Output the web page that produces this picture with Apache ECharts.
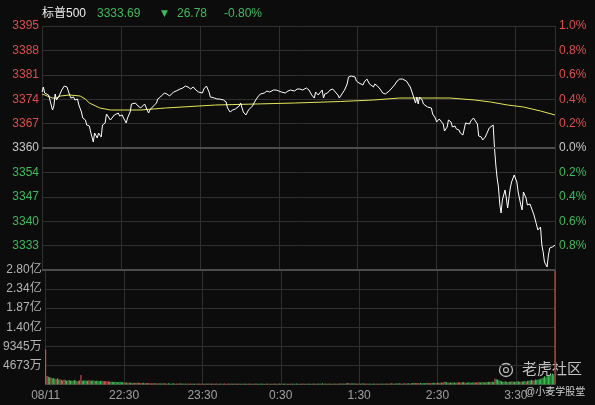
<!DOCTYPE html>
<html><head><meta charset="utf-8">
<script src="https://cdn.jsdelivr.net/npm/echarts@6/dist/echarts.min.js"></script>
<style>html,body{margin:0;padding:0;background:#0c0c0c;}#c{width:595px;height:405px;}</style>
</head><body><div id="c"></div>
<script>
// ---- data ----
const indexName = '标普500';
const lastPrice = '3333.69';
const changeArrow = '▼';
const changeAbs = '26.78';
const changePct = '-0.80%';
const prevClose = 3360.47;
const priceTickLabels = ['3395','3388','3381','3374','3367','3360','3354','3347','3340','3333'];
const pctTickLabels = ['1.0%','0.8%','0.6%','0.4%','0.2%','0.0%','0.2%','0.4%','0.6%','0.8%'];
const volTickLabels = ['','4673万','9345万','1.40亿','1.87亿','2.34亿','2.80亿'];
const timeTickLabels = ['08/11','22:30','23:30','0:30','1:30','2:30','3:30'];
const watermarkMain = '老虎社区';
const watermarkSub = '@小麦学股堂';
// [minutes after 21:30 open, price]
const pricePoints = [
[0,3375.89],[1,3377.27],[2,3375.62],[5,3375.07],[6,3374.52],[8,3370.94],[9,3372.04],[10,3375.34],[11,3373.69],[13,3374.79],
[15,3376.44],[17,3377.54],[18,3377.82],[19,3377.27],[21,3375.07],[22,3374.24],[24,3374.52],[25,3373.69],[27,3373.96],[28,3372.31],
[30,3370.38],[31,3368.73],[33,3368.18],[34,3366.80],[36,3366.53],[37,3364.88],[39,3362.12],[40,3364.60],[42,3363.22],[43,3364.60],
[45,3363.50],[46,3366.80],[48,3367.36],[49,3369.83],[50,3369.83],[52,3368.18],[53,3368.46],[55,3369.56],[58,3370.11],[59,3369.28],
[61,3369.56],[62,3368.73],[64,3367.36],[65,3368.73],[67,3370.38],[68,3372.59],[71,3372.86],[73,3372.04],[75,3371.49],[78,3372.59],
[79,3371.76],[81,3370.11],[82,3370.94],[84,3371.76],[87,3372.86],[88,3373.96],[90,3374.52],[93,3375.62],[95,3375.34],[97,3374.79],
[100,3375.89],[102,3376.17],[103,3375.89],[105,3376.72],[107,3376.99],[109,3377.54],[111,3377.27],[113,3376.72],[115,3377.27],[117,3376.44],
[119,3375.89],[122,3375.62],[123,3376.72],[125,3377.54],[127,3375.89],[128,3374.52],[131,3374.24],[133,3373.96],[135,3373.96],[138,3373.69],
[140,3373.14],[141,3371.49],[143,3370.38],[145,3370.94],[147,3371.21],[150,3372.04],[151,3372.86],[153,3370.38],[155,3369.56],[157,3370.94],
[160,3372.04],[162,3373.41],[164,3374.52],[166,3375.34],[169,3375.62],[171,3376.17],[173,3375.89],[176,3376.44],[178,3376.44],[180,3376.17],
[182,3375.89],[185,3375.62],[187,3376.17],[189,3376.44],[192,3376.17],[194,3376.72],[196,3376.72],[198,3376.44],[201,3376.99],[203,3376.44],
[205,3375.07],[207,3374.24],[208,3375.89],[210,3375.07],[211,3374.52],[213,3376.44],[214,3374.24],[215,3375.34],[217,3375.62],[219,3376.44],
[221,3376.72],[223,3375.89],[225,3375.07],[226,3374.24],[228,3375.34],[230,3376.44],[232,3378.10],[233,3380.02],[235,3380.30],[236,3380.30],
[238,3380.02],[239,3378.92],[241,3378.37],[242,3378.65],[244,3377.82],[245,3378.65],[247,3379.47],[249,3378.10],[250,3378.65],[252,3377.27],
[253,3378.10],[255,3377.54],[257,3376.72],[259,3375.62],[261,3375.34],[264,3376.17],[265,3376.72],[268,3377.82],[270,3378.92],[272,3379.47],
[274,3379.47],[277,3378.92],[278,3378.37],[280,3377.27],[282,3375.07],[284,3372.86],[285,3374.52],[286,3372.59],[287,3374.52],[289,3373.69],
[290,3372.59],[293,3371.76],[294,3372.31],[296,3371.49],[297,3369.83],[299,3368.73],[300,3367.63],[302,3368.46],[303,3369.01],[305,3367.08],
[306,3365.15],[308,3366.25],[309,3368.18],[311,3367.63],[312,3366.25],[314,3366.53],[315,3365.70],[317,3365.43],[318,3364.60],[320,3364.05],
[322,3367.36],[323,3367.63],[325,3367.08],[326,3367.91],[328,3368.73],[329,3369.01],[331,3367.08],[332,3363.77],[334,3363.50],[335,3362.67],
[337,3363.50],[338,3364.33],[340,3365.98],[341,3366.53],[343,3366.80],[344,3360.47],[345,3355.79],[346,3352.21],[347,3349.73],[348,3345.05],
[349,3342.57],[350,3346.15],[352,3348.90],[353,3346.70],[354,3343.95],[356,3349.45],[357,3351.11],[359,3353.03],[360,3353.58],[361,3351.11],
[362,3348.35],[364,3344.77],[365,3343.40],[366,3348.35],[368,3346.70],[369,3344.77],[371,3345.05],[372,3344.77],[374,3342.02],[375,3340.64],
[377,3337.89],[379,3338.71],[380,3333.76],[381,3331.83],[382,3329.07],[384,3327.70],[385,3331.00],[386,3332.93],[388,3333.21],[389,3333.76],
[390,3333.69]
];
const avgPoints = [
[0,3375.34],[2,3375.07],[8,3374.24],[11,3374.24],[14,3374.79],[21,3375.07],[29,3374.79],[33,3373.96],[36,3372.86],[44,3371.49],
[52,3370.94],[75,3370.94],[94,3371.49],[132,3372.31],[192,3372.86],[227,3373.28],[252,3373.69],[272,3374.24],[310,3374.24],[329,3373.69],
[341,3373.14],[354,3372.31],[366,3371.76],[379,3370.66],[390,3369.56]
];
// volume per minute, unit 万
const volume = [
8600,2100,1900,1800,1700,1500,1600,1400,1300,1500,
1200,1300,1100,1000,1200,1100,900,1000,1100,900,
1000,900,1100,950,800,900,1000,2300,900,1000,
1000,950,900,1050,1000,900,950,1000,850,900,
900,800,850,900,800,800,850,750,800,700,
650,700,600,650,600,550,600,650,550,600,
500,450,550,400,500,450,400,450,350,400,
400,350,400,300,350,400,300,350,300,350,
300,250,300,350,250,300,250,300,250,300,
250,300,250,200,300,250,200,250,300,200,
250,200,250,300,200,250,200,250,200,250,
200,250,200,250,200,200,250,200,250,200,
250,200,200,250,200,250,200,200,250,200,
200,250,200,200,250,200,200,250,200,200,
250,200,250,200,200,250,200,200,250,200,
200,200,250,200,200,200,250,200,200,200,
200,250,200,200,200,250,200,200,200,200,
250,200,200,200,200,250,200,200,200,250,
200,200,200,250,200,200,200,200,250,200,
200,200,250,200,200,200,200,250,200,200,
200,250,200,200,200,250,200,200,250,200,
250,200,300,200,250,200,200,250,200,200,
200,250,200,200,250,200,300,200,250,200,
300,350,300,250,300,250,300,250,200,250,
250,200,250,300,250,200,250,200,250,200,
200,250,200,250,200,200,250,200,250,200,
250,200,250,200,250,300,250,200,250,300,
250,300,250,200,250,300,250,250,300,250,
300,350,400,350,300,350,300,350,300,350,
300,350,400,350,300,400,350,450,400,350,
400,450,400,500,450,600,650,550,500,450,
500,450,550,500,450,500,550,500,450,600,
550,500,450,500,550,500,450,500,550,500,
500,550,600,500,550,600,500,550,600,650,
600,650,700,600,1400,1300,1200,1000,900,800,
700,650,800,700,600,650,700,800,650,700,
700,750,800,700,650,750,800,850,700,900,
900,1000,1100,950,1000,1200,1100,1300,1200,1400,
1500,1700,2000,1800,2200,2000,2400,2300,2700,2500,
28000
];
const volDir =
"rrggrgrgrg"+"grgrrggrgg"+"rggrgrgrgg"+"gggrgggrgg"+"gggrgrrrrg"+
"gggggrgggg"+"rrgrrgrgrr"+"grgrgrgrgr"+"rgrgrrgrgr"+"grgrgrggrg"+
"rgrgrgrrgr"+"grgrgrgrgr"+"rgrgrgrgrr"+"grgrgrgrgr"+"rgrgrgrgrg"+
"grgrgrgrgr"+"rgrgrggrgr"+"grgrgrgrgr"+"rgrgrgrgrg"+"grgrgrgrgr"+
"rgrgrgrgrg"+"grgrrgrgrg"+"rgrgrgrgrg"+"grrgrgrgrg"+"rgrgrgrgrg"+
"grgrgrgrgr"+"rgrgrgrgrg"+"grgrgrgrgr"+"rgrgrgrgrg"+"grgrgrgrgr"+
"rgrgrgrgrg"+"ggrgrgrgrg"+"grgrggrgrg"+"rgrggrgrgg"+"grggrggggg"+
"ggrgrggrgg"+"rgggrgggrg"+"gggrgggggg"+"gggggggggg"+"r";

// ---- chart ----
const RED = '#dc4f4f', GREEN = '#3fba5c', GREY = '#c8c8c8';
const FONT = "'Liberation Sans','Noto Sans CJK SC',sans-serif";
const toPct = p => (p / prevClose - 1) * 100;
const pctIndex = v => Math.round((1 - v) / 0.2);

const chart = echarts.init(document.getElementById('c'), null, {renderer: 'canvas'});
const gridLine = '#303030';
chart.setOption({
  backgroundColor: '#0c0c0c',
  animation: false,
  grid: [
    {left: 42, right: 40, top: 26, height: 244},
    {left: 42, right: 40, top: 270, height: 114.5}
  ],
  xAxis: [
    {type: 'value', gridIndex: 0, min: 0, max: 390, interval: 60,
     axisLine: {show: false}, axisTick: {show: false}, axisLabel: {show: false},
     splitLine: {show: true, lineStyle: {color: gridLine, width: 1}}},
    {type: 'value', gridIndex: 1, min: 0, max: 390, interval: 60,
     axisLine: {show: false}, axisTick: {show: false},
     axisLabel: {show: true, color: '#a0a0a0', fontSize: 12, fontFamily: FONT, margin: 5,
       formatter: v => { const i = v / 60; return (Number.isInteger(i) && i < timeTickLabels.length) ? timeTickLabels[i] : ''; }},
     splitLine: {show: true, lineStyle: {color: gridLine, width: 1}}}
  ],
  yAxis: [
    {type: 'value', gridIndex: 0, position: 'left', min: -1, max: 1, interval: 0.2,
     axisLine: {show: false}, axisTick: {show: false},
     axisLabel: {fontSize: 12, fontFamily: FONT, margin: 3,
       formatter: v => priceTickLabels[pctIndex(v)] || '',
       color: v => { const i = pctIndex(v); return i < 5 ? RED : (i === 5 ? GREY : GREEN); }},
     splitLine: {show: true, lineStyle: {color: gridLine, width: 1}}},
    {type: 'value', gridIndex: 0, position: 'right', min: -1, max: 1, interval: 0.2,
     axisLine: {show: false}, axisTick: {show: false},
     axisLabel: {fontSize: 12, fontFamily: FONT, margin: 4,
       formatter: v => pctTickLabels[pctIndex(v)] || '',
       color: v => { const i = pctIndex(v); return i < 5 ? RED : (i === 5 ? GREY : GREEN); }},
     splitLine: {show: false}},
    {type: 'value', gridIndex: 1, position: 'left', min: 0, max: 28038, interval: 4673,
     axisLine: {show: false}, axisTick: {show: false},
     axisLabel: {fontSize: 12, fontFamily: FONT, margin: 4, color: '#b4b4b4',
       formatter: v => volTickLabels[Math.round(v / 4673)] || ''},
     splitLine: {show: true, lineStyle: {color: gridLine, width: 1}}}
  ],
  series: [
    {type: 'line', xAxisIndex: 0, yAxisIndex: 0, showSymbol: false, z: 1,
     data: [], lineStyle: {width: 0},
     markLine: {silent: true, symbol: ['none', 'none'], label: {show: false},
       lineStyle: {color: '#4c4c4c', width: 2, type: 'solid'},
       data: [{yAxis: 0}, {yAxis: -1}]}},
    {type: 'line', name: 'avg', xAxisIndex: 0, yAxisIndex: 0, showSymbol: false, z: 3,
     data: avgPoints.map(d => [d[0], toPct(d[1])]),
     lineStyle: {color: '#e4e45a', width: 1}},
    {type: 'line', name: 'price', xAxisIndex: 0, yAxisIndex: 0, showSymbol: false, z: 4,
     data: pricePoints.map(d => [d[0], toPct(d[1])]),
     lineStyle: {color: '#ffffff', width: 1}},
    {type: 'bar', name: 'vol', xAxisIndex: 1, yAxisIndex: 2, barWidth: 1,
     data: volume.map((v, i) => ({value: [i, v], itemStyle: {color: volDir[i] === 'r' ? '#e0575a' : '#3fc45a'}}))}
  ],
  graphic: [
    {type: 'text', left: 42, top: 8, style: {text: indexName, fill: '#ececec', font: '12px ' + FONT}},
    {type: 'text', left: 97, top: 8, style: {text: lastPrice, fill: GREEN, font: '12px ' + FONT}},
    {type: 'text', left: 161, top: 9, style: {text: changeArrow, fill: GREEN, font: '9px DejaVu Sans'}},
    {type: 'text', left: 177, top: 8, style: {text: changeAbs, fill: GREEN, font: '12px ' + FONT}},
    {type: 'text', left: 224, top: 8, style: {text: changePct, fill: GREEN, font: '12px ' + FONT}},
    {type: 'circle', shape: {cx: 506, cy: 370, r: 6.5}, style: {fill: 'none', stroke: '#b8b8b8', lineWidth: 1.3}},
    {type: 'circle', shape: {cx: 506, cy: 370, r: 2.5}, style: {fill: 'none', stroke: '#b8b8b8', lineWidth: 1.2}},
    {type: 'text', left: 522, top: 362, style: {text: watermarkMain, fill: 'rgba(215,215,215,0.9)', font: '15px ' + FONT}},
    {type: 'text', left: 525, top: 387, style: {text: watermarkSub, fill: '#cfcfcf', font: '10px ' + FONT}}
  ]
});
</script></body></html>
